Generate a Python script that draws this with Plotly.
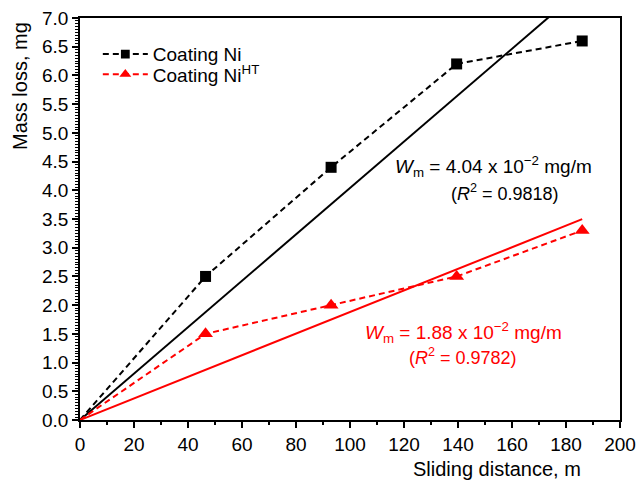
import plotly.graph_objects as go

# Data
distance = [0, 46.5, 93, 139.5, 186]
ni_loss = [0, 2.5, 4.4, 6.2, 6.6]
niht_loss = [0, 1.5, 2.0, 2.5, 3.3]
fit_x = [0, 186]
ni_slope = 0.0404
niht_slope = 0.0188

FONT = "Liberation Sans, Arial, sans-serif"
RED = "#ff0000"

marker_sizes = [0] + [11] * (len(distance) - 1)
tri_sizes = [0] + [13] * (len(distance) - 1)

fig = go.Figure()
fig.add_trace(go.Scatter(
    x=fit_x, y=[ni_slope * v for v in fit_x], mode="lines",
    line=dict(color="black", width=2), showlegend=False))
fig.add_trace(go.Scatter(
    x=fit_x, y=[niht_slope * v for v in fit_x], mode="lines",
    line=dict(color=RED, width=2), showlegend=False))
fig.add_trace(go.Scatter(
    x=distance, y=ni_loss, mode="lines+markers", name="Coating Ni",
    line=dict(color="black", width=2, dash="6px,4px"),
    marker=dict(symbol="square", size=marker_sizes, color="black",
                opacity=1, line=dict(width=0)),
    legend="legend"))
fig.add_trace(go.Scatter(
    x=distance, y=niht_loss, mode="lines+markers", name="Coating Ni<sup>HT</sup>",
    line=dict(color=RED, width=2, dash="6px,4px"),
    marker=dict(symbol="triangle-up", size=tri_sizes, color=RED,
                opacity=1, line=dict(width=0)),
    legend="legend2"))

axis_common = dict(
    showline=True, linecolor="black", linewidth=1.5, mirror=True,
    ticks="outside", ticklen=6, tickwidth=1.5, tickcolor="black",
    showgrid=False, zeroline=False, automargin=False,
    ticklabeloverflow="allow",
    tickfont=dict(family=FONT, size=19, color="black"),
)

fig.update_xaxes(range=[0, 200], dtick=20, tick0=0,
                 minor=dict(dtick=10, ticks="outside", ticklen=3, tickcolor="black", tickwidth=1.5),
                 **axis_common)
fig.update_yaxes(range=[0, 7], dtick=0.5, tick0=0, tickformat=".1f",
                 minor=dict(dtick=0.05, ticks="outside", ticklen=3, tickcolor="black", tickwidth=1),
                 **axis_common)

# axis titles (positioned like the reference)
fig.add_annotation(x=154.5, xref="x", xanchor="center",
                   y=0, yref="paper", yanchor="middle", yshift=-49,
                   text="Sliding distance, m", showarrow=False,
                   font=dict(family=FONT, size=20, color="black"))
fig.add_annotation(x=0, xref="paper", xanchor="center", xshift=-60,
                   y=1, yref="paper", yanchor="top", yshift=-2,
                   text="Mass loss, mg", textangle=-90, showarrow=False,
                   font=dict(family=FONT, size=20, color="black"))

fig.add_annotation(x=153.3, y=4.41, text="<i>W</i><sub>m</sub> = 4.04 x 10<sup>−2</sup> mg/m",
                   showarrow=False, font=dict(family=FONT, size=19, color="black"))
fig.add_annotation(x=157.4, y=3.97, text="(<i>R</i><sup>2</sup> = 0.9818)",
                   showarrow=False, font=dict(family=FONT, size=18, color="black"))
fig.add_annotation(x=142.2, y=1.53, text="<i>W</i><sub>m</sub> = 1.88 x 10<sup>−2</sup> mg/m",
                   showarrow=False, font=dict(family=FONT, size=19, color=RED))
fig.add_annotation(x=141.9, y=1.11, text="(<i>R</i><sup>2</sup> = 0.9782)",
                   showarrow=False, font=dict(family=FONT, size=18, color=RED))

legend_common = dict(xanchor="left", yanchor="middle", bgcolor="rgba(0,0,0,0)",
                     font=dict(family=FONT, size=19, color="black"),
                     itemwidth=45)

fig.update_layout(
    width=636, height=480,
    margin=dict(l=80, r=16, t=18, b=60),
    paper_bgcolor="white", plot_bgcolor="white",
    font=dict(family=FONT, size=18, color="black"),
    legend=dict(x=0.033, y=0.910, **legend_common),
    legend2=dict(x=0.033, y=0.860, **legend_common),
)

fig.write_html("out.html",
               config={"displayModeBar": False},
               post_script="document.body.style.margin='0';document.body.style.overflow='hidden';")
